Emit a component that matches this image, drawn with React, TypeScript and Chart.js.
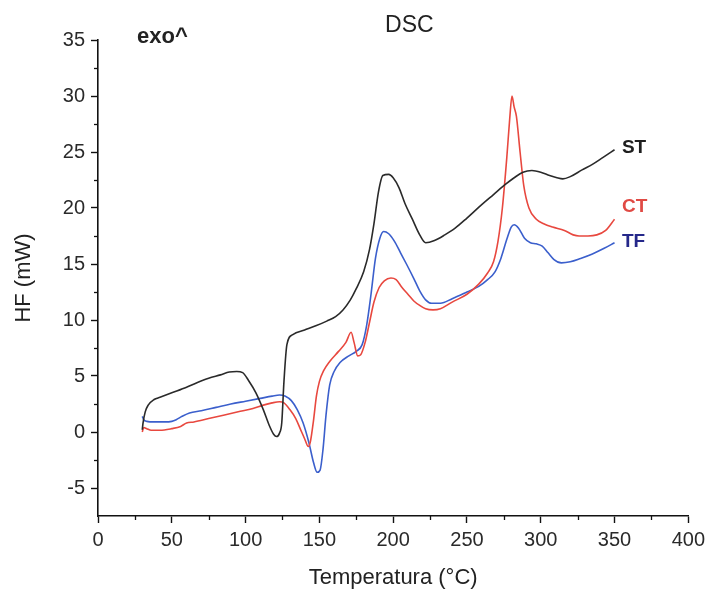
import React, { useEffect, useRef } from "react";
import { Chart, registerables } from "chart.js";

Chart.register(...registerables);

// ---- data ----
const stTemp = [30, 30.5, 32, 34, 38, 42, 50, 60, 67, 75, 83, 89, 94, 98, 102, 107, 112, 116, 119, 121, 123, 124.5, 126, 128, 132, 140, 148, 155, 161, 166, 171, 175, 180, 184, 187, 190, 193, 197, 200, 204, 208, 213, 218, 222, 228, 235, 242, 250, 260, 268, 276, 282, 288, 294, 300, 306, 311, 315, 320, 328, 335, 342, 350];
const stHF = [0.2, 0.8, 1.8, 2.4, 2.9, 3.1, 3.5, 4.0, 4.4, 4.8, 5.1, 5.35, 5.4, 5.3, 4.6, 3.5, 2.0, 0.6, -0.2, -0.4, -0.1, 0.8, 4.5, 7.8, 8.7, 9.1, 9.5, 9.9, 10.3, 10.9, 11.8, 12.8, 14.3, 16.3, 18.6, 21.4, 22.9, 23.0, 22.7, 21.8, 20.4, 19.0, 17.6, 16.9, 17.1, 17.6, 18.2, 19.1, 20.3, 21.2, 22.1, 22.7, 23.2, 23.35, 23.2, 22.9, 22.7, 22.6, 22.8, 23.4, 23.9, 24.5, 25.2];

const ctTemp = [30, 31, 33, 36, 42, 50, 56, 60, 65, 75, 85, 95, 105, 112, 118, 123, 126, 130, 134, 137, 140, 142.5, 144, 146, 148, 150, 153, 157, 163, 168, 171.5, 173.5, 176, 178, 181, 184, 187, 190.5, 194, 198.5, 202, 206, 210, 214, 218, 222, 227, 232, 240, 250, 258, 264, 268, 271, 274, 277, 279, 280.5, 282, 283.5, 286, 288.5, 292, 297, 302, 308, 316, 322, 326, 332, 338, 344, 350];
const ctHF = [0.0, 0.4, 0.3, 0.15, 0.15, 0.3, 0.5, 0.8, 0.9, 1.2, 1.5, 1.8, 2.1, 2.4, 2.6, 2.7, 2.6, 2.0, 1.2, 0.3, -0.6, -1.3, -0.8, 1.0, 3.2, 4.5, 5.5, 6.3, 7.2, 8.0, 8.9, 8.0, 6.8, 6.9, 8.0, 9.8, 11.6, 12.9, 13.5, 13.75, 13.6, 12.9, 12.3, 11.7, 11.3, 11.0, 10.9, 11.0, 11.6, 12.3, 13.2, 14.2, 15.2, 17.0, 20.0, 24.5, 28.0, 30.0, 29.0, 28.2, 25.0, 22.0, 20.0, 19.0, 18.6, 18.3, 18.0, 17.6, 17.5, 17.5, 17.6, 18.0, 19.0];

const tfTemp = [30, 31, 33, 38, 45, 50, 53, 57, 62, 70, 80, 90, 100, 110, 118, 123, 127, 131, 135, 139, 143, 146, 148.5, 150.5, 152.5, 154.5, 157, 160, 164, 170, 175, 179, 182, 185, 188, 191, 193.5, 197, 201, 205, 209, 214, 218, 222, 226, 232, 240, 250, 258, 264, 269, 273, 277, 280, 282, 285, 289, 293, 297, 301, 305, 309, 314, 320, 327, 335, 343, 350];
const tfHF = [1.4, 1.1, 0.95, 0.9, 0.9, 0.95, 1.1, 1.4, 1.7, 1.9, 2.2, 2.5, 2.75, 3.0, 3.2, 3.3, 3.2, 2.8, 2.0, 0.8, -1.0, -2.7, -3.6, -3.4, -1.5, 1.5, 4.2, 5.4, 6.2, 6.8, 7.2, 7.8, 9.5, 12.3, 15.5, 17.3, 17.9, 17.7, 17.0, 16.0, 15.0, 13.7, 12.6, 11.8, 11.5, 11.5, 11.9, 12.5, 13.0, 13.6, 14.3, 15.5, 17.2, 18.3, 18.5, 18.2, 17.3, 16.9, 16.8, 16.6, 16.0, 15.4, 15.1, 15.2, 15.5, 15.9, 16.4, 16.9];

const seriesNames = ["ST", "CT", "TF"];
const seriesColors = ["#2a2a2a", "#e8483f", "#3b5fcc"];
const labelColors = ["#1e1e1e", "#e04a44", "#25288a"];

const xMin = 0, xMax = 400, xStep = 50;
const yMin = -7.5, yMax = 35, yStep = 5;

const FONT = "'Liberation Sans', Arial, Helvetica, sans-serif";

function pts(t: number[], h: number[]) {
  return t.map((x, i) => ({ x, y: h[i] }));
}

const annotPlugin = {
  id: "annot",
  afterDraw(chart: any) {
    const { ctx, scales } = chart;
    const xs = scales.x, ys = scales.y;
    ctx.save();
    // minor ticks
    ctx.strokeStyle = "#111";
    ctx.lineWidth = 1.3;
    for (let v = xMin + xStep / 2; v < xMax; v += xStep) {
      const px = Math.round(xs.getPixelForValue(v)) + 0.5;
      ctx.beginPath();
      ctx.moveTo(px, ys.bottom);
      ctx.lineTo(px, ys.bottom + 4);
      ctx.stroke();
    }
    for (let v = -5 + yStep / 2; v < yMax; v += yStep) {
      const py = Math.round(ys.getPixelForValue(v)) + 0.5;
      ctx.beginPath();
      ctx.moveTo(xs.left, py);
      ctx.lineTo(xs.left - 4, py);
      ctx.stroke();
    }
    // texts
    ctx.textBaseline = "middle";
    ctx.textAlign = "center";
    ctx.fillStyle = "#222";
    ctx.font = `23px ${FONT}`;
    ctx.fillText("DSC", xs.getPixelForValue(211), ys.getPixelForValue(36.3));
    ctx.textAlign = "left";
    ctx.font = `bold 22px ${FONT}`;
    ctx.fillText("exo^", xs.getPixelForValue(26.5), ys.getPixelForValue(35.3));
    const ends = [stTemp[stTemp.length - 1], ctTemp[ctTemp.length - 1], tfTemp[tfTemp.length - 1]];
    const labY = [25.4, 20.1, 17.0];
    ctx.font = `bold 19px ${FONT}`;
    seriesNames.forEach((n, i) => {
      ctx.fillStyle = labelColors[i];
      ctx.fillText(n, xs.getPixelForValue(ends[i] + 5), ys.getPixelForValue(labY[i]));
    });
    ctx.restore();
  },
};

export default function App() {
  const ref = useRef<HTMLCanvasElement | null>(null);
  useEffect(() => {
    if (!ref.current) return;
    const mk = (i: number, t: number[], h: number[]) => ({
      label: seriesNames[i],
      data: pts(t, h),
      borderColor: seriesColors[i],
      backgroundColor: seriesColors[i],
      borderWidth: 1.6,
      pointRadius: 0,
      showLine: true,
      fill: false,
      cubicInterpolationMode: "monotone" as const,
    });
    const chart = new Chart(ref.current, {
      type: "scatter",
      data: {
        datasets: [mk(0, stTemp, stHF), mk(1, ctTemp, ctHF), mk(2, tfTemp, tfHF)],
      },
      options: {
        animation: false,
        responsive: false,
        devicePixelRatio: 1,
        layout: { padding: { top: 40, right: 20, left: 0, bottom: 0 } },
        plugins: { legend: { display: false }, tooltip: { enabled: false }, title: { display: false } },
        scales: {
          x: {
            type: "linear",
            min: xMin,
            max: xMax,
            afterFit: (s: any) => { s.height = 76; },
            border: { display: true, color: "#111", width: 1.6 },
            grid: { display: true, drawOnChartArea: false, drawTicks: true, tickLength: 7, tickColor: "#111", tickWidth: 1.4 },
            ticks: { stepSize: xStep, color: "#2a2a2a", font: { family: FONT, size: 20 }, padding: 5, maxRotation: 0 },
            title: { display: true, text: "Temperatura (°C)", color: "#222", font: { family: FONT, size: 22 }, padding: { top: 0, bottom: 1 } },
          },
          y: {
            type: "linear",
            min: yMin,
            max: yMax,
            afterFit: (s: any) => { s.width = 98; },
            border: { display: true, color: "#111", width: 1.6 },
            grid: { display: true, drawOnChartArea: false, drawTicks: true, tickLength: 7, tickColor: "#111", tickWidth: 1.4 },
            ticks: { stepSize: yStep, includeBounds: false, color: "#2a2a2a", font: { family: FONT, size: 20 }, padding: 6 },
            title: { display: true, text: "HF (mW)", color: "#222", font: { family: FONT, size: 22 }, padding: { top: 11, bottom: 0 } },
          },
        },
      },
      plugins: [annotPlugin],
    } as any);
    return () => chart.destroy();
  }, []);
  return (
    <div style={{ position: "absolute", left: 0, top: 0, width: 710, height: 592, background: "#fff" }}>
      <canvas ref={ref} width={710} height={592} />
    </div>
  );
}
